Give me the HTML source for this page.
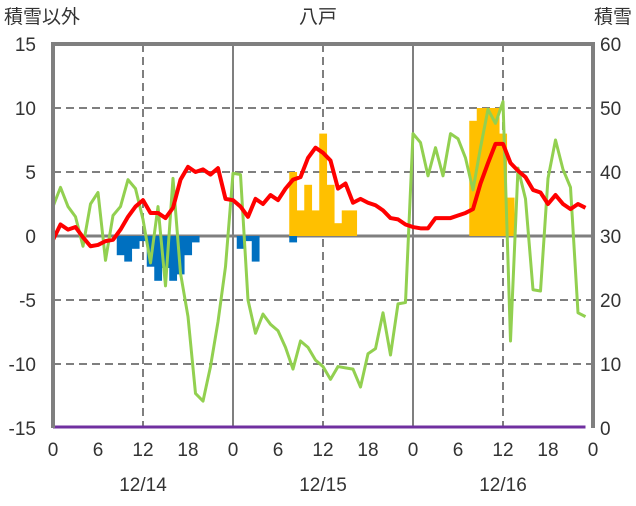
<!DOCTYPE html>
<html><head><meta charset="utf-8"><style>
body{margin:0;background:#fff}
svg text{font-family:"Liberation Sans","Noto Sans CJK JP",sans-serif;fill:#333}
</style></head><body>
<svg width="636" height="501">
<g id="grid"></g><g id="bars"></g><g id="lines"></g><g id="axes"></g>
</svg>
<script>
const hours=[...Array(72).keys()];
const temp=[-0.3,0.9,0.5,0.7,-0.1,-0.8,-0.7,-0.4,-0.3,0.5,1.5,2.3,2.8,1.8,1.8,1.4,2.2,4.4,5.4,5.0,5.2,4.8,5.3,2.9,2.8,2.3,1.5,2.9,2.5,3.2,2.8,3.7,4.4,4.6,6.1,6.9,6.5,5.9,3.7,4.1,2.6,2.9,2.6,2.4,2.0,1.4,1.3,0.9,0.7,0.6,0.6,1.4,1.4,1.4,1.6,1.8,2.1,4.1,5.7,7.2,7.2,5.7,5.1,4.6,3.6,3.4,2.5,3.2,2.5,2.1,2.5,2.2];
const green=[2.3,3.8,2.3,1.5,-0.8,2.5,3.4,-1.9,1.6,2.3,4.4,3.7,1.3,-2.1,2.3,-3.9,4.5,-2.9,-6.3,-12.3,-12.9,-10.2,-6.7,-2.4,4.9,4.8,-5.0,-7.6,-6.1,-6.9,-7.4,-8.7,-10.4,-8.2,-8.7,-9.7,-10.2,-11.2,-10.2,-10.3,-10.4,-11.8,-9.2,-8.8,-6.0,-9.3,-5.3,-5.2,8.0,7.3,4.7,6.9,4.7,8.0,7.6,6.1,3.6,6.9,9.9,8.8,10.5,-8.2,5.3,2.9,-4.2,-4.3,4.5,7.5,5.2,3.8,-6.0,-6.3];
const blueHours=[9,10,11,12,13,14,15,16,17,18,19,25,26,27,32];
const blueVals=[-1.5,-2.0,-1.0,-0.4,-2.4,-3.5,-2.5,-3.5,-3.0,-1.5,-0.5,-1.0,-0.4,-2.0,-0.5];
const yellowHours=[32,33,34,35,36,37,38,39,40,56,57,58,59,60,61];
const yellowVals=[5,2,4,2,8,4,1,2,2,9,10,10,10,8,3];
const snowDepth=hours.map(()=>0);
const leftTicks=[15,10,5,0,-5,-10,-15];
const rightTicks=[60,50,40,30,20,10,0];
const hourTicks=[0,6,12,18,24,30,36,42,48,54,60,66,72];
const hourLabels=["0","6","12","18","0","6","12","18","0","6","12","18","0"];
const dateLabels=["12/14","12/15","12/16"];

const X0=53,X1=593,Y0=44,Y1=428;
const x=h=>X0+h*(X1-X0)/72;
const y=v=>Y1-(v+15)*(Y1-Y0)/30;
const yr=v=>Y1-v*(Y1-Y0)/60;
const NS="http://www.w3.org/2000/svg";
function mk(tag,attrs,parent,txt){const e=document.createElementNS(NS,tag);for(const k in attrs)e.setAttribute(k,attrs[k]);if(txt!==undefined)e.textContent=txt;document.getElementById(parent).appendChild(e);return e;}
// grid
[10,5,-5,-10].forEach(v=>{const l=mk('line',{x1:X0,x2:X1,y1:y(v),y2:y(v),stroke:'#7f7f7f','stroke-width':2,'stroke-dasharray':'8,5'},'grid');

});
[12,36,60].forEach(h=>{const l=mk('line',{x1:x(h),x2:x(h),y1:Y0,y2:Y1,stroke:'#7f7f7f','stroke-width':2,'stroke-dasharray':'8,5'},'grid');

});
[24,48].forEach(h=>{const l=mk('line',{x1:x(h),x2:x(h),y1:Y0,y2:Y1,stroke:'#7f7f7f','stroke-width':2},'grid');

});
// bars
const bw=(X1-X0)/72;
blueHours.forEach((h,i)=>{const v=blueVals[i];const r=mk('rect',{x:x(h)-bw/2,y:y(0),width:bw+0.3,height:y(v)-y(0),fill:'#0070c0'},'bars');

});
yellowHours.forEach((h,i)=>{const v=yellowVals[i];const r=mk('rect',{x:x(h)-bw/2,y:y(v),width:bw+0.3,height:y(0)-y(v),fill:'#ffc000'},'bars');

});
// zero line
const z=mk('line',{x1:X0,x2:X1,y1:y(0),y2:y(0),stroke:'#7f7f7f','stroke-width':3},'grid');


// lines
const g=mk('polyline',{points:green.map((v,i)=>x(hours[i])+','+y(v)).join(' '),fill:'none',stroke:'#92d050','stroke-width':3,'stroke-linejoin':'round'},'lines');


const t=mk('polyline',{points:temp.map((v,i)=>x(hours[i])+','+y(v)).join(' '),fill:'none',stroke:'#ff0000','stroke-width':4,'stroke-linejoin':'round'},'lines');


const s=mk('polyline',{points:snowDepth.map((v,i)=>x(hours[i])+','+(yr(v)-1)).join(' '),fill:'none',stroke:'#7030a0','stroke-width':3},'lines');


// frame
const f=mk('path',{d:`M${X0},${Y1} V${Y0} H${X1} V${Y1}`,fill:'none',stroke:'#7f7f7f','stroke-width':4},'axes');


leftTicks.forEach(v=>{const e=mk('text',{x:36,y:y(v)+7,'text-anchor':'end','font-size':19},'axes',String(v));

});
rightTicks.forEach(v=>{const e=mk('text',{x:600,y:yr(v)+7,'font-size':19},'axes',String(v));

});
hourTicks.forEach((h,i)=>{const e=mk('text',{x:x(h),y:456,'text-anchor':'middle','font-size':19},'axes',hourLabels[i]);

});
dateLabels.forEach((d,i)=>{const e=mk('text',{x:x(12+24*i),y:491,'text-anchor':'middle','font-size':19},'axes',d);

});
let e=mk('text',{x:318,y:23,'text-anchor':'middle','font-size':19},'axes','八戸');


e=mk('text',{x:4,y:23,'font-size':19},'axes','積雪以外');


e=mk('text',{x:632,y:23,'text-anchor':'end','font-size':19},'axes','積雪');


</script>
</body></html>
